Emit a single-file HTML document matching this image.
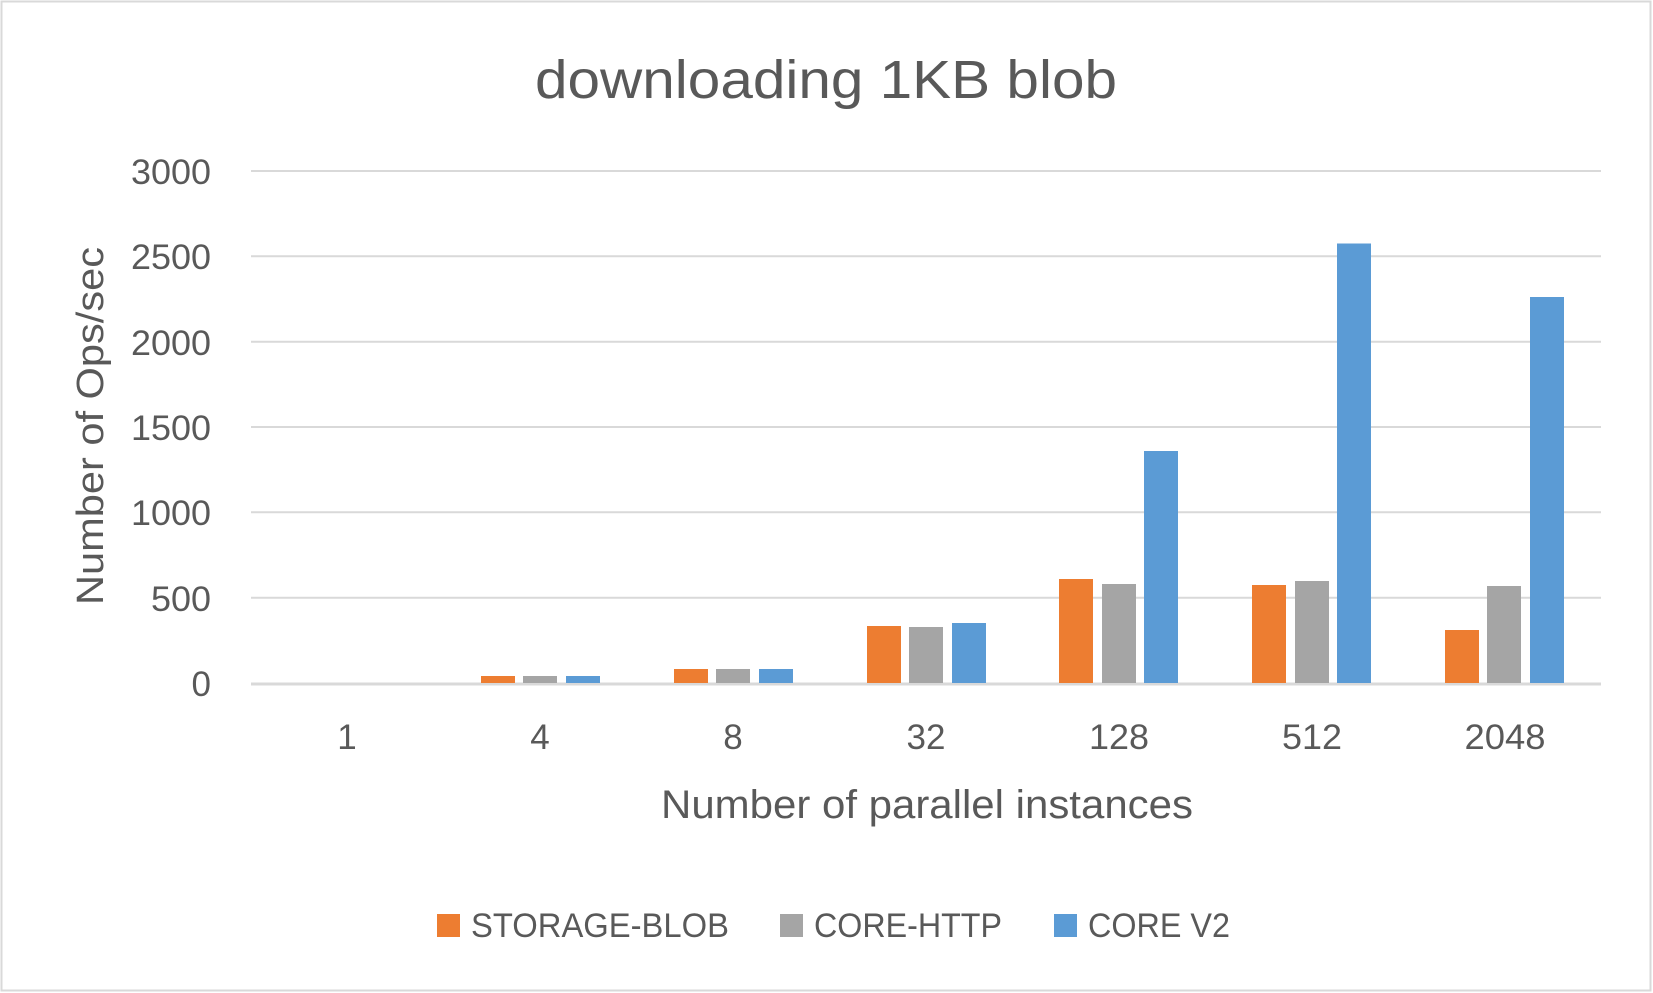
<!DOCTYPE html>
<html><head><meta charset="utf-8"><style>html,body{margin:0;padding:0;background:#fff}svg{display:block}</style></head>
<body>
<svg width="1653" height="993" viewBox="0 0 1653 993" xmlns="http://www.w3.org/2000/svg" font-family="Liberation Sans, sans-serif" fill="#595959">
<rect x="1.5" y="1.5" width="1649" height="989" fill="#fff" stroke="#d9d9d9" stroke-width="2"/>
<text x="826" y="98" font-size="54" text-anchor="middle" textLength="582" lengthAdjust="spacingAndGlyphs">downloading 1KB blob</text>
<g stroke="#d9d9d9" stroke-width="2">
<line x1="251" x2="1601" y1="171" y2="171"/>
<line x1="251" x2="1601" y1="256.3" y2="256.3"/>
<line x1="251" x2="1601" y1="341.7" y2="341.7"/>
<line x1="251" x2="1601" y1="427" y2="427"/>
<line x1="251" x2="1601" y1="512.3" y2="512.3"/>
<line x1="251" x2="1601" y1="597.7" y2="597.7"/>
<line x1="251" x2="1601" y1="684" y2="684" stroke-width="3"/>
</g>
<g font-size="35" text-anchor="end">
<text x="211" y="184" textLength="80" lengthAdjust="spacingAndGlyphs">3000</text>
<text x="211" y="269" textLength="80" lengthAdjust="spacingAndGlyphs">2500</text>
<text x="211" y="355" textLength="80" lengthAdjust="spacingAndGlyphs">2000</text>
<text x="211" y="440" textLength="80" lengthAdjust="spacingAndGlyphs">1500</text>
<text x="211" y="525" textLength="80" lengthAdjust="spacingAndGlyphs">1000</text>
<text x="211" y="611" textLength="60" lengthAdjust="spacingAndGlyphs">500</text>
<text x="211" y="696">0</text>
</g>
<text transform="translate(103,426) rotate(-90)" font-size="38" text-anchor="middle" textLength="358" lengthAdjust="spacingAndGlyphs">Number of Ops/sec</text>
<g id="bars">
<!-- group centers: 347.4 + i*192.9; bars width 34, step 42.5 -->
<rect x="481" y="676" width="34" height="7" fill="#ed7d31"/>
<rect x="523" y="676" width="34" height="7" fill="#a5a5a5"/>
<rect x="566" y="676" width="34" height="7" fill="#5b9bd5"/>
<rect x="674" y="669" width="34" height="14" fill="#ed7d31"/>
<rect x="716" y="669" width="34" height="14" fill="#a5a5a5"/>
<rect x="759" y="669" width="34" height="14" fill="#5b9bd5"/>
<rect x="867" y="626" width="34" height="57" fill="#ed7d31"/>
<rect x="909" y="627" width="34" height="56" fill="#a5a5a5"/>
<rect x="952" y="623" width="34" height="60" fill="#5b9bd5"/>
<rect x="1059" y="579" width="34" height="104" fill="#ed7d31"/>
<rect x="1102" y="584" width="34" height="99" fill="#a5a5a5"/>
<rect x="1144" y="451" width="34" height="232" fill="#5b9bd5"/>
<rect x="1252" y="585" width="34" height="98" fill="#ed7d31"/>
<rect x="1295" y="581" width="34" height="102" fill="#a5a5a5"/>
<rect x="1337" y="243.5" width="34" height="439.5" fill="#5b9bd5"/>
<rect x="1445" y="630" width="34" height="53" fill="#ed7d31"/>
<rect x="1487" y="586" width="34" height="97" fill="#a5a5a5"/>
<rect x="1530" y="297" width="34" height="386" fill="#5b9bd5"/>
</g>
<g font-size="35" text-anchor="middle">
<text x="347" y="749">1</text>
<text x="540" y="749">4</text>
<text x="733" y="749">8</text>
<text x="926" y="749">32</text>
<text x="1119" y="749" textLength="60" lengthAdjust="spacingAndGlyphs">128</text>
<text x="1312" y="749" textLength="60" lengthAdjust="spacingAndGlyphs">512</text>
<text x="1505" y="749" textLength="81" lengthAdjust="spacingAndGlyphs">2048</text>
</g>
<text x="661" y="818" font-size="40" textLength="532" lengthAdjust="spacingAndGlyphs">Number of parallel instances</text>
<g font-size="34">
<rect x="437" y="914" width="23" height="23" fill="#ed7d31"/>
<text x="471" y="937" textLength="258" lengthAdjust="spacingAndGlyphs">STORAGE-BLOB</text>
<rect x="780" y="914" width="23" height="23" fill="#a5a5a5"/>
<text x="814" y="937" textLength="188" lengthAdjust="spacingAndGlyphs">CORE-HTTP</text>
<rect x="1054" y="914" width="23" height="23" fill="#5b9bd5"/>
<text x="1088" y="937" textLength="142" lengthAdjust="spacingAndGlyphs">CORE V2</text>
</g>
</svg>
</body></html>
